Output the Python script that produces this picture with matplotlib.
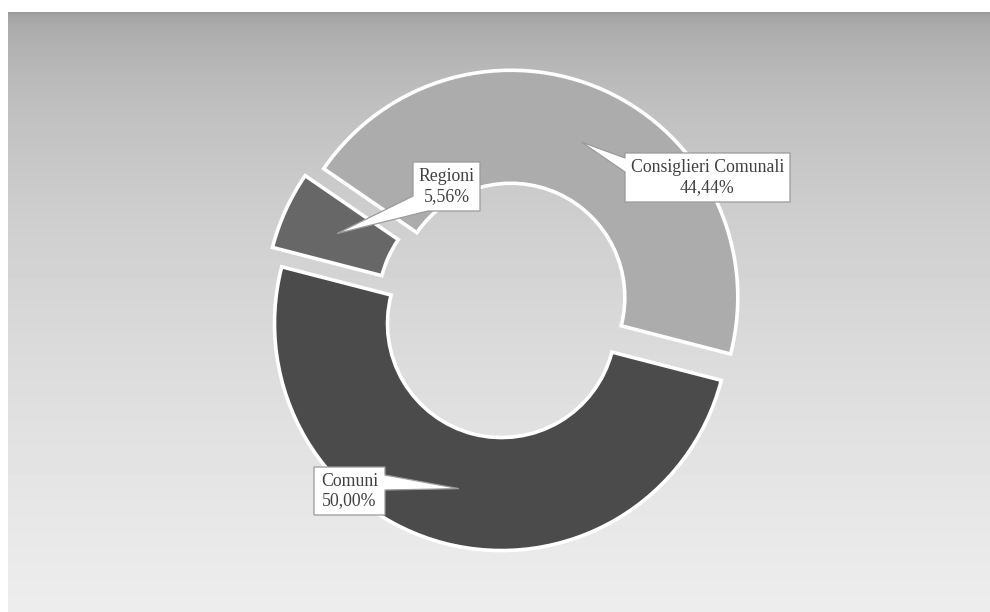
import numpy as np
import matplotlib
matplotlib.use("Agg")
import matplotlib.pyplot as plt
from matplotlib.patches import Polygon

# Data
categories = ["Consiglieri Comunali", "Comuni", "Regioni"]
shares = [44.44, 50.00, 5.56]
share_labels = ["44,44%", "50,00%", "5,56%"]
slice_colors = ["#acacac", "#4b4b4b", "#676767"]

W, H = 990, 612
fig = plt.figure(figsize=(W / 100, H / 100), dpi=100)
fig.patch.set_facecolor("white")
ax = fig.add_axes([0, 0, 1, 1])
ax.set_xlim(0, W)
ax.set_ylim(0, H)
ax.set_axis_off()

# Gray panel with a vertical gradient (dark at top, light at bottom)
t = np.linspace(0, 1, 300)[:, None]
shade = 0.61 + 0.32 * t ** 0.45
grad = np.repeat(shade, 2, axis=1)
ax.imshow(grad, cmap="gray", vmin=0, vmax=1, aspect="auto",
          extent=(8, W, 0, H - 12), origin="upper", zorder=0)

# Exploded doughnut
cx, cy = 505.0, H - 310.0
R_out, ring = 227.0, 113.0
wedges, _ = ax.pie(shares, colors=slice_colors, startangle=145.5,
                   counterclock=False, radius=R_out, center=(cx, cy),
                   explode=[14, 14, 14], frame=True,
                   wedgeprops=dict(width=ring, edgecolor="white", linewidth=2.6))
for w in wedges:
    w.set_zorder(2)
ax.set_xlim(0, W)
ax.set_ylim(0, H)
ax.set_aspect("equal", adjustable="box")
ax.set_axis_off()

# Callout boxes: (left, top, right, bottom) in pixels from top-left,
# and which box side the pointer leaves from
boxes = {
    "Consiglieri Comunali": ((625, 153, 790, 202), "left", (158, 172)),
    "Comuni": ((314, 467, 385, 515), "right", (475, 490)),
    "Regioni": ((413, 162, 480, 211), "bottomleft", (196, 428)),
}

font = dict(family=["Liberation Serif", "DejaVu Serif"], size=12.8, color="#404040")

for w, name, lab in zip(wedges, categories, share_labels):
    # Pointer tip at the middle of the ring, along the slice's mid-angle
    mid = np.deg2rad(0.5 * (w.theta1 + w.theta2))
    rc = w.r - ring / 2
    tip = (w.center[0] + rc * np.cos(mid), w.center[1] + rc * np.sin(mid))
    (l, tp, r, b), side, (p1, p2) = boxes[name]
    T, B = H - tp, H - b
    if side == "left":
        pts = [(l, T), (r, T), (r, B), (l, B), (l, H - p2), tip, (l, H - p1)]
    elif side == "right":
        pts = [(l, T), (r, T), (r, H - p1), tip, (r, H - p2), (r, B), (l, B)]
    else:
        pts = [(l, T), (r, T), (r, B), (p2, B), tip, (l, H - p1)]
    ax.add_patch(Polygon(pts, closed=True, facecolor="white",
                         edgecolor="#9a9a9a", linewidth=0.9, zorder=4))
    ax.text((l + r) / 2, (T + B) / 2, f"{name}\n{lab}", ha="center",
            va="center", linespacing=1.2, zorder=5, **font)

fig.savefig("out.png", dpi=100, facecolor=fig.get_facecolor())
